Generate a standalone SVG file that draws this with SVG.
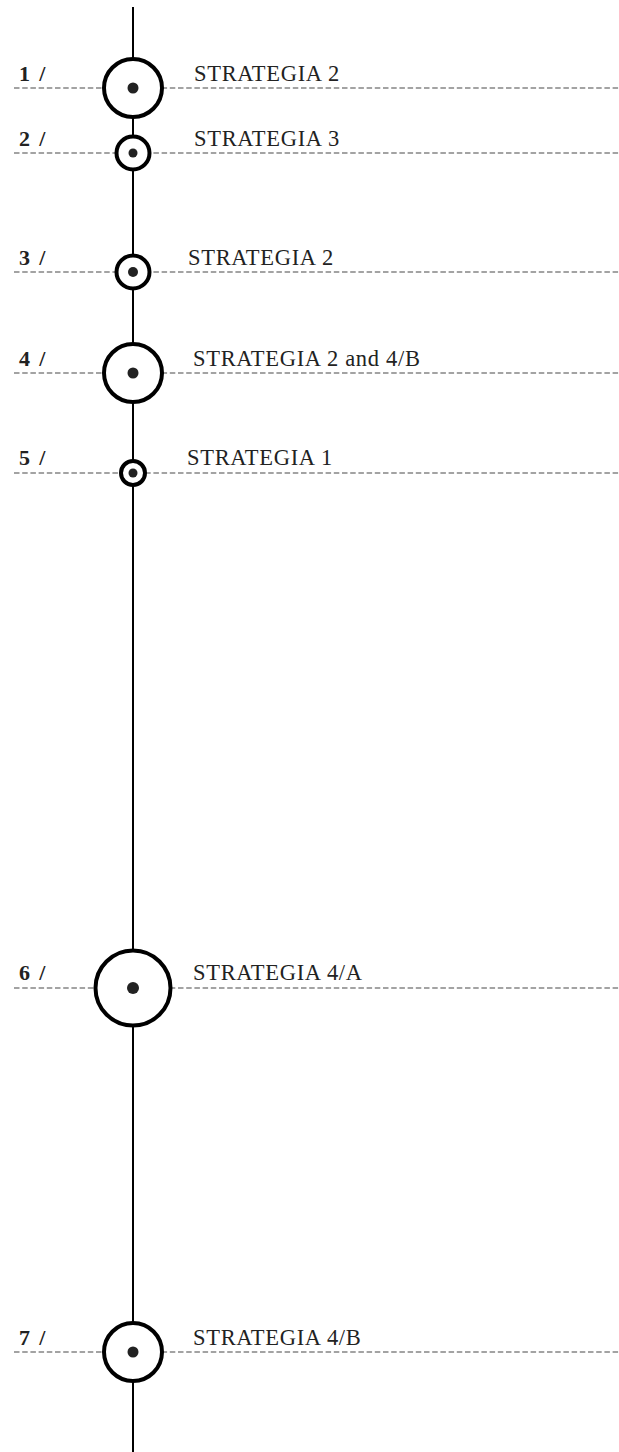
<svg xmlns="http://www.w3.org/2000/svg" width="619" height="1452" viewBox="0 0 619 1452">
<style>
.dash{stroke:#858585;stroke-width:1.3;stroke-dasharray:5.5 2.7;fill:none}
.ring{fill:#fff;stroke:#000;stroke-width:4}
.dot{fill:#222}
.num{font-family:"Liberation Serif",serif;font-weight:bold;font-size:22px;letter-spacing:0.6px;word-spacing:2.5px;fill:#222}
.lbl{font-family:"Liberation Serif",serif;font-size:22.5px;letter-spacing:0.7px;fill:#222}
</style>
<rect width="619" height="1452" fill="#fff"/>
<g id="connectors">
<line x1="133" y1="7" x2="133" y2="1452" stroke="#000" stroke-width="2"/>
</g>
<g id="n1"><line class="dash" x1="14" y1="88" x2="619" y2="88"/><circle class="ring" cx="133" cy="88" r="29"/><circle class="dot" cx="133" cy="88" r="5.5"/><text class="num" x="19" y="81">1 /</text><text class="lbl" x="194" y="81">STRATEGIA 2</text></g>
<g id="n2"><line class="dash" x1="14" y1="153" x2="619" y2="153"/><circle class="ring" cx="133" cy="153" r="16.5"/><circle class="dot" cx="133" cy="153" r="4.5"/><text class="num" x="19" y="146">2 /</text><text class="lbl" x="194" y="146">STRATEGIA 3</text></g>
<g id="n3"><line class="dash" x1="14" y1="272" x2="619" y2="272"/><circle class="ring" cx="133" cy="272" r="16.5"/><circle class="dot" cx="133" cy="272" r="5"/><text class="num" x="19" y="265">3 /</text><text class="lbl" x="188" y="265">STRATEGIA 2</text></g>
<g id="n4"><line class="dash" x1="14" y1="373" x2="619" y2="373"/><circle class="ring" cx="133" cy="373" r="29"/><circle class="dot" cx="133" cy="373" r="5.5"/><text class="num" x="19" y="366">4 /</text><text class="lbl" x="193" y="366">STRATEGIA 2 and 4/B</text></g>
<g id="n5"><line class="dash" x1="14" y1="473" x2="619" y2="473"/><circle class="ring" cx="133" cy="473" r="12"/><circle class="dot" cx="133" cy="473" r="4.5"/><text class="num" x="19" y="465">5 /</text><text class="lbl" x="187" y="465">STRATEGIA 1</text></g>
<g id="n6"><line class="dash" x1="14" y1="988" x2="619" y2="988"/><circle class="ring" cx="133" cy="988" r="37.5"/><circle class="dot" cx="133" cy="988" r="6"/><text class="num" x="19" y="980">6 /</text><text class="lbl" x="193" y="980">STRATEGIA 4/A</text></g>
<g id="n7"><line class="dash" x1="14" y1="1352" x2="619" y2="1352"/><circle class="ring" cx="133" cy="1352" r="29"/><circle class="dot" cx="133" cy="1352" r="5.5"/><text class="num" x="19" y="1345">7 /</text><text class="lbl" x="193" y="1345">STRATEGIA 4/B</text></g>
</svg>
